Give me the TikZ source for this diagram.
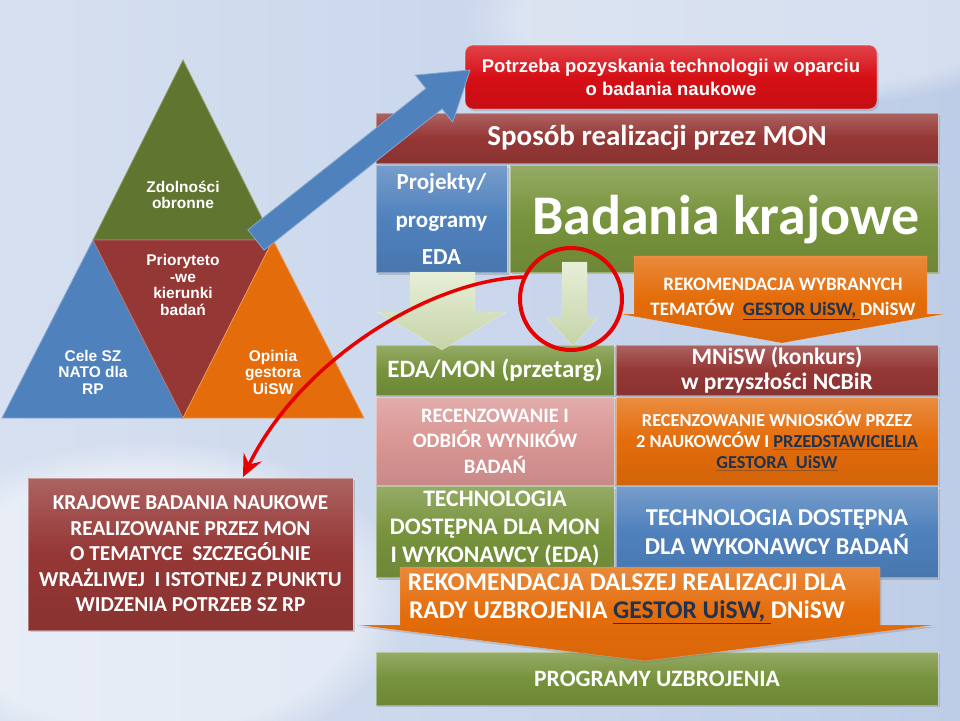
\documentclass[tikz,border=0pt]{standalone}
\usepackage{fontspec}
\newfontfamily\calib{Carlito}
\newfontfamily\arialf{Liberation Sans}
\usetikzlibrary{calc,shadows,arrows.meta,fadings}
\newcommand\myfs[2]{\fontsize{#1}{#2}\selectfont}
\definecolor{dkred}{RGB}{149,55,53}
\definecolor{olive}{RGB}{95,117,48}
\definecolor{gbox}{RGB}{119,147,60}
\definecolor{bbox}{RGB}{79,129,189}
\definecolor{obox}{RGB}{228,108,10}
\definecolor{pbox}{RGB}{217,150,148}
\definecolor{lgreen}{RGB}{215,228,189}
\definecolor{navy}{RGB}{31,50,80}
\definecolor{topred}{RGB}{215,15,22}
\definecolor{bgl}{RGB}{214,224,240}
\definecolor{bgr}{RGB}{190,205,231}
\definecolor{arrred}{RGB}{230,0,0}
\tikzset{
  every node/.style={inner sep=0pt, outer sep=0pt},
  box/.style={rectangle, align=center, text=white, draw=white, draw opacity=0.35, line width=1pt,
    drop shadow={opacity=0.35, shadow xshift=1.5pt, shadow yshift=-2pt}},
  shd/.style={top color=#1!78!white, bottom color=#1!92!black, middle color=#1},
  tri/.style={fill=#1, draw=#1!70!white, line width=0.8pt},
  tritext/.style={text=white, align=center, font=\arialf\bfseries\myfs{15.5}{16.5}},
  cb/.style={font=\calib\bfseries\myfs{#1}{#1}},
}
\begin{document}
\begin{tikzpicture}[x=1pt,y=-1pt]
\useasboundingbox (0,0) rectangle (960,720);
% background
\shade[left color=bgl, right color=bgr] (0,0) rectangle (960,720);
\fill[white, path fading=circle with fuzzy edge 20 percent, opacity=0.45] (150,600) ellipse [x radius=260pt, y radius=160pt];
\fill[white, path fading=circle with fuzzy edge 20 percent, opacity=0.35] (760,20) ellipse [x radius=300pt, y radius=90pt];
% triangle
\coordinate (apex) at (183,60);
\coordinate (ml) at (93,240);
\coordinate (mr) at (273,240);
\coordinate (bl) at (2,418);
\coordinate (bm) at (183,418);
\coordinate (br) at (364,418);
\fill[tri=olive] (apex) -- (mr) -- (ml) -- cycle;
\fill[tri=bbox] (ml) -- (bm) -- (bl) -- cycle;
\fill[tri=dkred] (ml) -- (mr) -- (bm) -- cycle;
\fill[tri=obox] (mr) -- (br) -- (bm) -- cycle;
\node[tritext] (tz) at (183,195) {Zdolności\\obronne};
\node[tritext] (tp) at (183,285) {Prioryteto\\-we\\kierunki\\badań};
\node[tritext] (tc) at (93,372) {Cele SZ\\NATO dla\\RP};
\node[tritext] (to) at (273,372) {Opinia\\gestora\\UiSW};
% top boxes
\node[box, shd=topred, rounded corners=8pt, minimum width=412, minimum height=64,
  font=\arialf\bfseries\myfs{18.5}{23}] (need) at (671,77)
  {Potrzeba pozyskania technologii w oparciu\\o badania naukowe};
\node[box, shd=dkred, minimum width=562, minimum height=50, cb=29] (spos) at (657,138)
  {Sposób realizacji przez MON};
\node[box, shd=bbox, minimum width=131, minimum height=107,
  font=\calib\bfseries\myfs{23}{37.5}] (proj) at (441.5,219) {Projekty/\\programy\\EDA};
\node[box, shd=gbox, minimum width=428, minimum height=107] (bk) at (724,218.5) {};
\node[text=white, cb=56, anchor=base] (bkt) at (726,234) {Badania krajowe};
% blue arrow
\coordinate (bs) at (256,240);
\coordinate (bt) at (470,70);
\coordinate (bb) at ($(bt)!46pt!(bs)$);
\fill[bbox, draw=bbox!70!white, line width=0.8pt]
  ($(bs)!13pt!90:(bt)$) -- ($(bb)!13pt!90:(bt)$) -- ($(bb)!30pt!90:(bt)$) -- (bt)
  -- ($(bb)!30pt!-90:(bt)$) -- ($(bb)!13pt!-90:(bt)$) -- ($(bs)!13pt!-90:(bt)$) -- cycle;
% orange chevron top
\shade[top color=obox!80!white, bottom color=obox!95!black, middle color=obox,
  draw=white, draw opacity=0.3]
  (634,256) -- (927,256) -- (927,314) -- (945,314) -- (782,343) -- (620,314) -- (634,314) -- cycle;
\node[text=white, align=center, font=\calib\bfseries\myfs{19}{25}] (rekw) at (783,299)
  {REKOMENDACJA WYBRANYCH\\TEMATÓW\ \ \textcolor{navy}{\underline{GESTOR UiSW,\ }}DNiSW};
% middle boxes
\node[box, shd=gbox, minimum width=238, minimum height=50, cb=25] (edamon) at (495,370)
  {EDA/MON (przetarg)};
\node[box, shd=dkred, minimum width=322, minimum height=50,
  font=\calib\bfseries\myfs{23.5}{25}] (mnisw) at (777,370)
  {MNiSW (konkurs)\\w przyszłości NCBiR};
\node[box, shd=pbox, minimum width=238, minimum height=88,
  font=\calib\bfseries\myfs{20.5}{25.5}] (rec1) at (495,441)
  {RECENZOWANIE I\\ODBIÓR WYNIKÓW\\BADAŃ};
\node[box, shd=obox, minimum width=322, minimum height=88,
  font=\calib\bfseries\myfs{18.3}{21}] (rec2) at (777,441)
  {RECENZOWANIE WNIOSKÓW PRZEZ\\2 NAUKOWCÓW I \textcolor{navy}{\underline{PRZEDSTAWICIELIA}}\\\textcolor{navy}{\underline{GESTORA\ \ UiSW}}};
\node[box, shd=gbox, minimum width=238, minimum height=91] (tech1) at (495,532) {};
\node[text=white, align=center, font=\calib\bfseries\myfs{23.7}{28}] (tech1t) at (495,529)
  {TECHNOLOGIA\\DOSTĘPNA DLA MON\\I WYKONAWCY (EDA)};
\node[box, shd=bbox, minimum width=322, minimum height=91,
  font=\calib\bfseries\myfs{24.2}{29}] (tech2) at (777,532)
  {TECHNOLOGIA DOSTĘPNA\\DLA WYKONAWCY BADAŃ};
% green arrows
\shade[top color=lgreen!60!white, bottom color=lgreen!85!olive, draw=white, draw opacity=0.4]
  (410,272) -- (475,272) -- (475,312) -- (507,312) -- (442,350) -- (377,312) -- (410,312) -- cycle;
\shade[top color=lgreen!60!white, bottom color=lgreen!85!olive, draw=white, draw opacity=0.4]
  (562,262) -- (587,262) -- (587,318) -- (598,318) -- (573,346) -- (547,318) -- (562,318) -- cycle;
% bottom
\node[box, shd=gbox, minimum width=562, minimum height=53, cb=23.5] (prog) at (657,678.5)
  {PROGRAMY UZBROJENIA};
\shade[top color=obox!80!white, bottom color=obox!95!black, middle color=obox,
  draw=white, draw opacity=0.3, drop shadow={opacity=0.3, shadow xshift=1.5pt, shadow yshift=-2pt}]
  (400,567) -- (880,567) -- (880,625) -- (935,625) -- (645,661) -- (357,625) -- (400,625) -- cycle;
\node[text=white, align=center, font=\calib\bfseries\myfs{25.5}{27.5}] (rekd) at (627,599)
  {REKOMENDACJA DALSZEJ REALIZACJI DLA\\RADY UZBROJENIA \textcolor{navy}{\underline{GESTOR UiSW,\ }}DNiSW};
% left box
\node[box, shd=dkred, minimum width=325, minimum height=152,
  font=\calib\bfseries\myfs{21.3}{25.5}] (kraj) at (190.5,554)
  {KRAJOWE BADANIA NAUKOWE\\REALIZOWANE PRZEZ MON\\O TEMATYCE\ \ SZCZEGÓLNIE\\WRAŻLIWEJ\ \ I ISTOTNEJ Z PUNKTU\\WIDZENIA POTRZEB SZ RP};
% red circle and curved arrow
\node[circle, draw=arrred, line width=4pt, minimum size=102] (circ) at (571,299) {};
\coordinate (cs) at (524,277);
\coordinate (ce) at (243,477);
\draw[arrred, line width=3.5pt, -{Stealth[length=22pt, width=20pt, inset=8pt]}]
  (cs) .. controls (430,280) and (300,360) .. (ce);
\end{tikzpicture}
\end{document}
